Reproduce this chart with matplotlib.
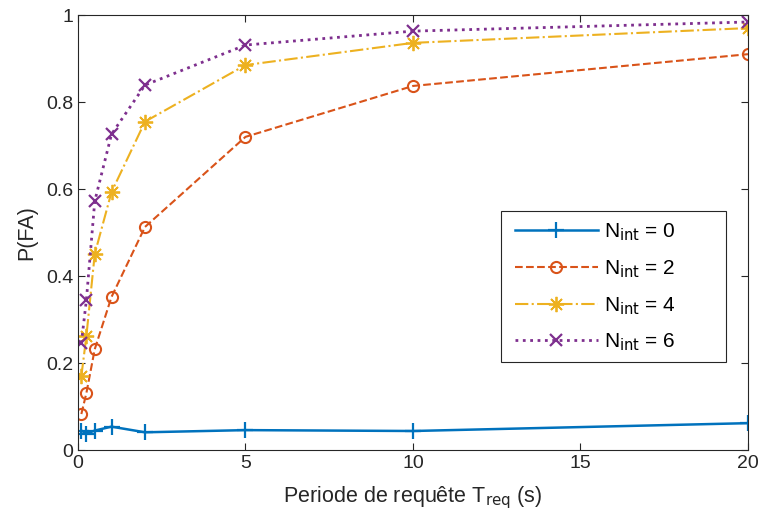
import numpy as np
import matplotlib.pyplot as plt
from matplotlib.ticker import FuncFormatter
from matplotlib.patches import Rectangle

plt.rcParams['font.family'] = ['Liberation Sans', 'DejaVu Sans']

T_req = [0.1, 0.25, 0.5, 1, 2, 5, 10, 20]
p_n0 = [0.045, 0.038, 0.045, 0.054, 0.041, 0.046, 0.044, 0.062]
p_n2 = [0.083, 0.131, 0.232, 0.352, 0.513, 0.720, 0.837, 0.910]
p_n4 = [0.170, 0.262, 0.451, 0.593, 0.755, 0.885, 0.936, 0.970]
p_n6 = [0.246, 0.345, 0.572, 0.726, 0.839, 0.931, 0.963, 0.984]

c_blue = (0, 0.447, 0.741)
c_orange = (0.85, 0.325, 0.098)
c_yellow = (0.929, 0.694, 0.125)
c_purple = (0.494, 0.184, 0.556)
dark = '#262626'

fig = plt.figure(figsize=(7.61, 5.18), dpi=100)
ax = fig.add_axes([0.1025, 0.131, 0.8804, 0.84])

ax.plot(T_req, p_n0, '-', color=c_blue, lw=1.8, marker='+', ms=11, mew=1.6,
        label=r'N$_{\mathrm{int}}$ = 0')
ax.plot(T_req, p_n2, '--', color=c_orange, lw=1.5, marker='o', ms=8, mew=1.5,
        mfc='none', label=r'N$_{\mathrm{int}}$ = 2')
ax.plot(T_req, p_n4, '-.', color=c_yellow, lw=1.5, marker=(8, 2, 0), ms=11, mew=1.3,
        label=r'N$_{\mathrm{int}}$ = 4')
ax.plot(T_req, p_n6, ':', color=c_purple, lw=2, marker='x', ms=9, mew=1.6,
        label=r'N$_{\mathrm{int}}$ = 6')

ax.set_xlim(0, 20)
ax.set_ylim(0, 1)
ax.set_xticks([0, 5, 10, 15, 20])
ax.set_yticks([0, 0.2, 0.4, 0.6, 0.8, 1])
ax.yaxis.set_major_formatter(FuncFormatter(lambda v, p: '%g' % v))
ax.tick_params(direction='in', top=True, right=True, labelsize=14,
               colors=dark, length=5)
for s in ax.spines.values():
    s.set_color(dark)
    s.set_linewidth(0.8)

ax.set_xlabel(r'Periode de requête T$_{\mathrm{req}}$ (s)', fontsize=15.5, color=dark,
              labelpad=9)
ax.set_ylabel('P(FA)', fontsize=15.5, color=dark, labelpad=6)

# legend box (wider than the legend content, like the original)
box = Rectangle((0.631, 0.202), 0.336, 0.347, transform=ax.transAxes,
                facecolor='white', edgecolor=dark, lw=0.8, zorder=4)
ax.add_patch(box)
leg = ax.legend(loc='upper left', bbox_to_anchor=(0.652, 0.525), fontsize=15,
                frameon=False, handlelength=4, handletextpad=0.3,
                borderpad=0, borderaxespad=0, labelspacing=0.72)
leg.set_zorder(5)

fig.savefig('out.png', dpi=100)
